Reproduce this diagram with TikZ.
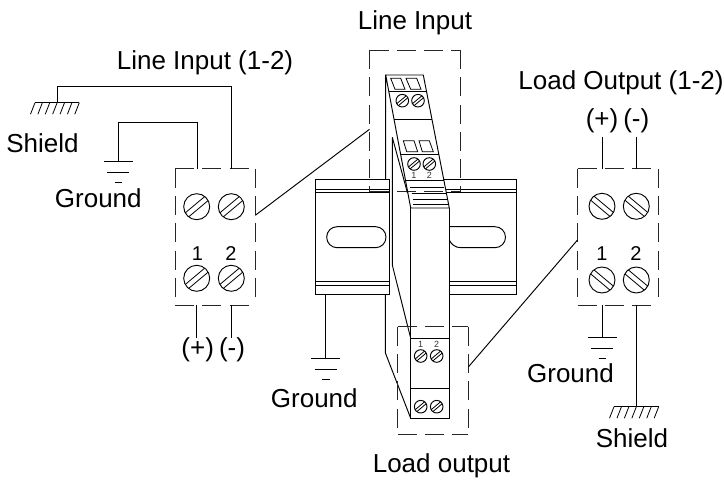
\documentclass[tikz,border=0pt]{standalone}
\usepackage{fontspec}
\setmainfont{Liberation Sans}
\newcommand{\screwat}[4]{% x, y, r, mirror sign
  \pgfmathsetmacro{\sdx}{.74*#3}\pgfmathsetmacro{\sdy}{.62*#3}
  \pgfmathsetmacro{\snx}{.13*#3}\pgfmathsetmacro{\sny}{.155*#3}
  \draw[wire] (#1,#2) circle[radius=#3];
  \draw[hair] ({#1+#4*(-\sdx+\snx)},{#2+\sdy+\sny}) -- ({#1+#4*(\sdx+\snx)},{#2-\sdy+\sny});
  \draw[hair] ({#1+#4*(-\sdx-\snx)},{#2+\sdy-\sny}) -- ({#1+#4*(\sdx-\snx)},{#2-\sdy-\sny});
}
\newcommand{\dashframe}[4]{% left, top, right, bottom
  \draw[dashside] (#1,#2) -- (#3,#2);
  \draw[dashside] (#1,#2) -- (#1,#4);
  \draw[dashside] (#3,#2) -- (#3,#4);
  \draw[dashside] (#1,#4) -- (#3,#4);
}
\newcommand{\earthbars}[2]{% x, y of top bar
  \draw[wire] ({#1-14.5},#2) -- ({#1+14.5},#2);
  \draw[wire] ({#1-11},{#2+10.7}) -- ({#1+11},{#2+10.7});
  \draw[wire] ({#1-3.8},{#2+21.5}) -- ({#1+3.8},{#2+21.5});
}
\newcommand{\hatchbar}[3]{% left x, y, right x
  \draw[wire] (#1,#2) -- (#3,#2);
  \foreach \hi in {0,...,6}{
    \pgfmathsetmacro{\hx}{#1+\hi*(#3-#1)/6}
    \draw[hair] (\hx,#2) -- ({\hx-4.5},{#2+11.5});
  }
}
\tikzset{
  wire/.style={draw=black,line width=0.95pt},
  hair/.style={draw=black,line width=0.8pt},
  dashside/.style={draw=black!85,line width=0.95pt,dash pattern=on 19pt off 8.3pt},
  lbl/.style={font=\fontsize{26}{30}\selectfont,inner sep=0pt,anchor=base,text=black},
  num/.style={font=\fontsize{20}{24}\selectfont,inner sep=0pt,anchor=base,text=black},
  tinynum/.style={font=\fontsize{9}{11}\selectfont,inner sep=0pt,anchor=base,text=black!80},
}
\begin{document}
\begin{tikzpicture}[x=1pt,y=-1pt]
\useasboundingbox (0,0) rectangle (724,481);
% ---- named points
\coordinate (shieldA) at (57,102.7);
\coordinate (lin2) at (231.3,168.7);
\coordinate (gndA) at (118.3,161.3);
\coordinate (lin1) at (197,168.7);
\coordinate (linBoxR) at (255.3,215.3);
\coordinate (topBoxL) at (369.5,129.3);
\coordinate (loadBoxR) at (468.3,367);
\coordinate (rightBoxL) at (577.5,240);
% ---- DIN rail
\draw[wire] (389.3,179.3) -- (315.7,179.3) -- (315.7,294.3) -- (389.3,294.3) -- (389.3,179.3);
\draw[wire] (315.7,189.3) -- (389.3,189.3) (315.7,192.7) -- (389.3,192.7);
\draw[wire] (315.7,281.7) -- (389.3,281.7) (315.7,285) -- (389.3,285);
\draw[wire,rounded corners=10.4pt] (326.7,226.7) rectangle (386,247.7);
\draw[wire] (443.8,179.3) -- (516.7,179.3) -- (516.7,294.3) -- (449.3,294.3);
\draw[wire] (445.8,189.3) -- (516.7,189.3) (446.4,192.7) -- (516.7,192.7);
\draw[wire] (449.3,281.7) -- (516.7,281.7) (449.3,285) -- (516.7,285);
\draw[wire] (449.3,226.7) -- (495,226.7) arc[start angle=-90,end angle=90,radius=10.5] -- (461,247.7) .. controls (455,247.7) and (451,244) .. (449.3,240);
% ---- top dashed box
\dashframe{369.5}{50}{460.7}{191.7}
% ---- module upper part
\draw[wire] (385.7,179.3) -- (385.7,75) -- (423.3,75) -- (449.3,208) -- (410.7,208) -- (385.7,75);
\draw[wire] (392.3,137.3) -- (392.3,265) (392.3,137.3) -- (407.5,193);
\draw[wire] (388.8,91.7) -- (426.6,91.7) (394,119) -- (431.8,119) (400.5,154) -- (438.7,154) (405.4,180) -- (443.8,180);
\draw[wire] (410,187.7) -- (444,187.7) (411.7,193.3) -- (445.7,193.3) (412.7,199.3) -- (447,199.3) (413.3,204.3) -- (447.7,204.3);
\draw[hair] (390.7,78.3) -- (400.7,78.3) -- (405,89.3) -- (395,89.3) -- cycle;
\draw[hair] (406,78.3) -- (416.7,78.3) -- (421,89.3) -- (410.7,89.3) -- cycle;
\draw[hair] (403.3,140.7) -- (414,140.7) -- (417.7,151.7) -- (406.7,151.7) -- cycle;
\draw[hair] (419,140.7) -- (429.3,140.7) -- (433.3,151.7) -- (422.3,151.7) -- cycle;
\screwat{402.3}{100.7}{6.3}{1}
\screwat{418}{100.7}{6.3}{1}
\screwat{414}{164}{6.3}{1}
\screwat{429.3}{164}{6.3}{1}
\node[tinynum] (t1) at (414,178.5) {1};
\node[tinynum] (t2) at (429.3,178.5) {2};
% ---- module lower part
\draw[wire] (410.7,208) -- (410.7,418.3) -- (449.3,418.3) -- (449.3,208);
\draw[wire] (410.7,338.3) -- (449.3,338.3) (410.7,388.3) -- (449.3,388.3);
\draw[wire] (392.3,265) -- (410.7,338.3);
\draw[wire] (385.3,294.3) -- (385.3,352.7) -- (410.7,418.3);
\screwat{420.7}{356}{6.3}{1}
\screwat{436.7}{356}{6.3}{1}
\screwat{420.7}{406.7}{6.3}{1}
\screwat{436.7}{406.7}{6.3}{1}
\node[tinynum] (b1) at (420.7,348) {1};
\node[tinynum] (b2) at (436.7,348) {2};
\dashframe{397.7}{326.7}{468.3}{434}
% ---- rail ground
\draw[wire] (325.7,294.3) -- (325.7,358.3);
\earthbars{325.7}{358.3}
% ---- left terminal box
\dashframe{175}{168.7}{255.3}{305}
\screwat{196.7}{206.7}{13}{1}
\screwat{231.3}{206.7}{13}{1}
\screwat{196.7}{278.3}{13}{1}
\screwat{231.3}{278.3}{13}{1}
\node[num] (l1) at (197.5,261) {1};
\node[num] (l2) at (231,261) {2};
\draw[wire] (lin2) -- (231.3,86) -- (57,86) -- (shieldA);
\hatchbar{35}{102.7}{79.3}
\draw[wire] (lin1) -- (197,122.7) -| (gndA);
\earthbars{118.3}{161.3}
\draw[wire] (196.7,305) -- (196.7,337.7);
\draw[wire] (231,305) -- (231,337.7);
\draw[wire] (linBoxR) -- (topBoxL);
% ---- right terminal box
\dashframe{577.5}{168.7}{658.7}{305}
\screwat{602}{206.3}{13}{-1}
\screwat{636.3}{206.3}{13}{-1}
\screwat{602}{280}{13}{-1}
\screwat{636.3}{280}{13}{-1}
\node[num] (r1) at (602,261) {1};
\node[num] (r2) at (636,261) {2};
\draw[wire] (602,137) -- (602,168.7);
\draw[wire] (636.3,137) -- (636.3,168.7);
\draw[wire] (602.3,305) -- (602.3,337.3);
\earthbars{602.3}{337.3}
\draw[wire] (636.3,305) -- (636.3,406.7);
\hatchbar{614}{406.7}{658.7}
\draw[wire] (loadBoxR) -- (rightBoxL);
% ---- labels
\node[lbl] (a) at (205,70) {Line Input (1-2)};
\node[lbl] (c) at (415,30) {Line Input};
\node[lbl] (d) at (621,89.3) {Load Output (1-2)};
\node[lbl] (e) at (42.5,152.3) {Shield};
\node[lbl] (f) at (98.3,207.3) {Ground};
\node[lbl] (g) at (197.7,356.7) {(+)};
\node[lbl] (h) at (232,356.7) {(-)};
\node[lbl] (i) at (602,128) {(+)};
\node[lbl] (j) at (636.3,128) {(-)};
\node[lbl] (k) at (314.3,408) {Ground};
\node[lbl] (m) at (570.5,382.7) {Ground};
\node[lbl] (n) at (632,447.7) {Shield};
\node[lbl] (o) at (441.5,472) {Load output};
\end{tikzpicture}
\end{document}
